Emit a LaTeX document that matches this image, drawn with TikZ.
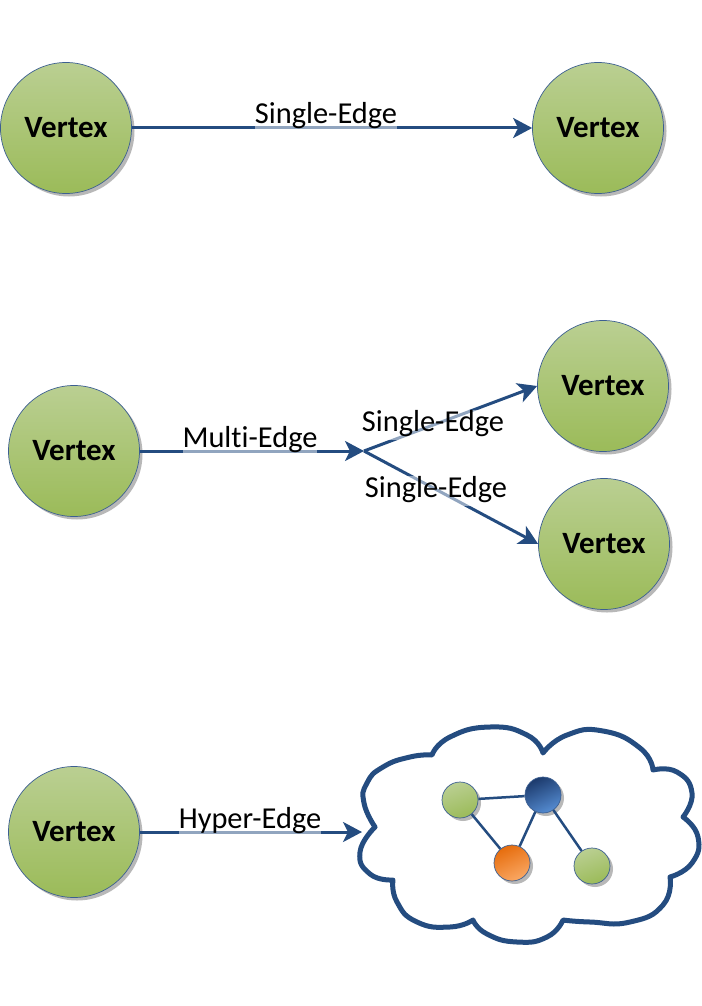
\documentclass[tikz,border=0pt]{standalone}
\usepackage{fontspec}
\setmainfont{Carlito}[Ligatures={NoCommon}]
\usetikzlibrary{arrows.meta,shadows,calc}
\definecolor{edgeblue}{RGB}{36,76,128}
\definecolor{rimblue}{RGB}{60,95,145}
\definecolor{gtop}{RGB}{186,207,146}
\definecolor{gbot}{RGB}{155,187,89}
\definecolor{btop}{RGB}{28,58,108}
\definecolor{bbot}{RGB}{85,140,210}
\definecolor{otop}{RGB}{230,108,12}
\definecolor{obot}{RGB}{250,168,100}
\begin{document}
\begin{tikzpicture}[x=1pt,y=-1pt,
  shad/.style={drop shadow={shadow xshift=3pt,shadow yshift=-3pt,fill=black!55,opacity=0.5}},
  vertex/.style={circle, minimum size=131pt, inner sep=0pt, draw=rimblue, line width=0.7pt,
    top color=gtop, bottom color=gbot, shad, font=\fontsize{31}{34}\selectfont\bfseries},
  minig/.style={circle, minimum size=36pt, inner sep=0pt, draw=rimblue, line width=0.7pt,
    top color=gtop, bottom color=gbot, shading angle=20, shad},
  minib/.style={minig, top color=btop, bottom color=bbot, shading angle=25},
  minio/.style={minig, top color=otop, bottom color=obot, shading angle=25},
  edge/.style={draw=edgeblue, line width=3pt, -{Stealth[length=19pt,width=20pt,inset=5pt]}},
  inner/.style={draw=edgeblue, line width=2.5pt},
  elabel/.style={font=\fontsize{30.4}{33}\selectfont, fill=white, fill opacity=0.5, text opacity=1,
    inner xsep=0pt, inner ysep=0pt, text depth=9pt, anchor=base},
  cloudline/.style={draw=edgeblue, line width=5pt, line join=round}
]
\fill[white] (0,0) rectangle (701,1006);
\useasboundingbox (0,0) rectangle (701,1006);

% ---- row 1: single edge
\node[vertex] (a1) at (66,128) {Vertex};
\node[vertex] (a2) at (598,128) {Vertex};
\draw[edge] (a1) -- (a2);
\node[elabel] (la) at (326,124) {Single-Edge};

% ---- row 2: multi edge
\node[vertex] (b1) at (74,451) {Vertex};
\node[vertex] (b2) at (603,386) {Vertex};
\node[vertex] (b3) at (604,544) {Vertex};
\coordinate (j) at (364,451);
\draw[edge] (b1) -- (j);
\draw[edge] (j) -- (b2.west);
\draw[edge] (j) -- (b3.west);
\node[elabel] (lb1) at (250,447) {Multi-Edge};
\node[elabel] (lb2) at (433,431) {Single-Edge};
\node[elabel] (lb3) at (436,497) {Single-Edge};

% ---- row 3: hyper edge
\node[vertex] (c1) at (74,832) {Vertex};
\coordinate (cin) at (362,832);
\draw[cloudline]
  (375,827) plot[smooth,tension=0.9] coordinates {(375,827) (364,803) (367,783) (383,767) (410,757) (432,755)}
  -- plot[smooth,tension=0.9] coordinates {(432,755) (450,737) (490,727) (527,735) (543,753)}
  -- plot[smooth,tension=0.9] coordinates {(543,753) (567,735) (603,731) (640,748) (653,770)}
  -- plot[smooth,tension=0.9] coordinates {(653,770) (677,772) (692,793) (683,817)}
  -- plot[smooth,tension=0.9] coordinates {(683,817) (698,837) (692,863) (670,877)}
  -- plot[smooth,tension=0.9] coordinates {(670,877) (663,905) (630,922) (590,922) (563,920)}
  -- plot[smooth,tension=0.9] coordinates {(563,920) (547,937) (517,942) (487,934) (473,920)}
  -- plot[smooth,tension=0.9] coordinates {(473,920) (450,927) (417,922) (397,902) (393,880)}
  -- plot[smooth,tension=0.9] coordinates {(393,880) (370,874) (360,852) (375,827)}
  -- cycle;
\draw[edge] (c1) -- (cin);
\node[elabel] (lc) at (250,828) {Hyper-Edge};

% mini graph
\node[minig] (g1) at (460,800) {};
\node[minib] (n2) at (543,795) {};
\node[minio] (n3) at (512,863) {};
\node[minig] (g4) at (592,866) {};
\draw[inner] (g1) -- (n2);
\draw[inner] (g1) -- (n3);
\draw[inner] (n3) -- (n2);
\draw[inner] (n2) -- (g4);
\end{tikzpicture}
\end{document}
